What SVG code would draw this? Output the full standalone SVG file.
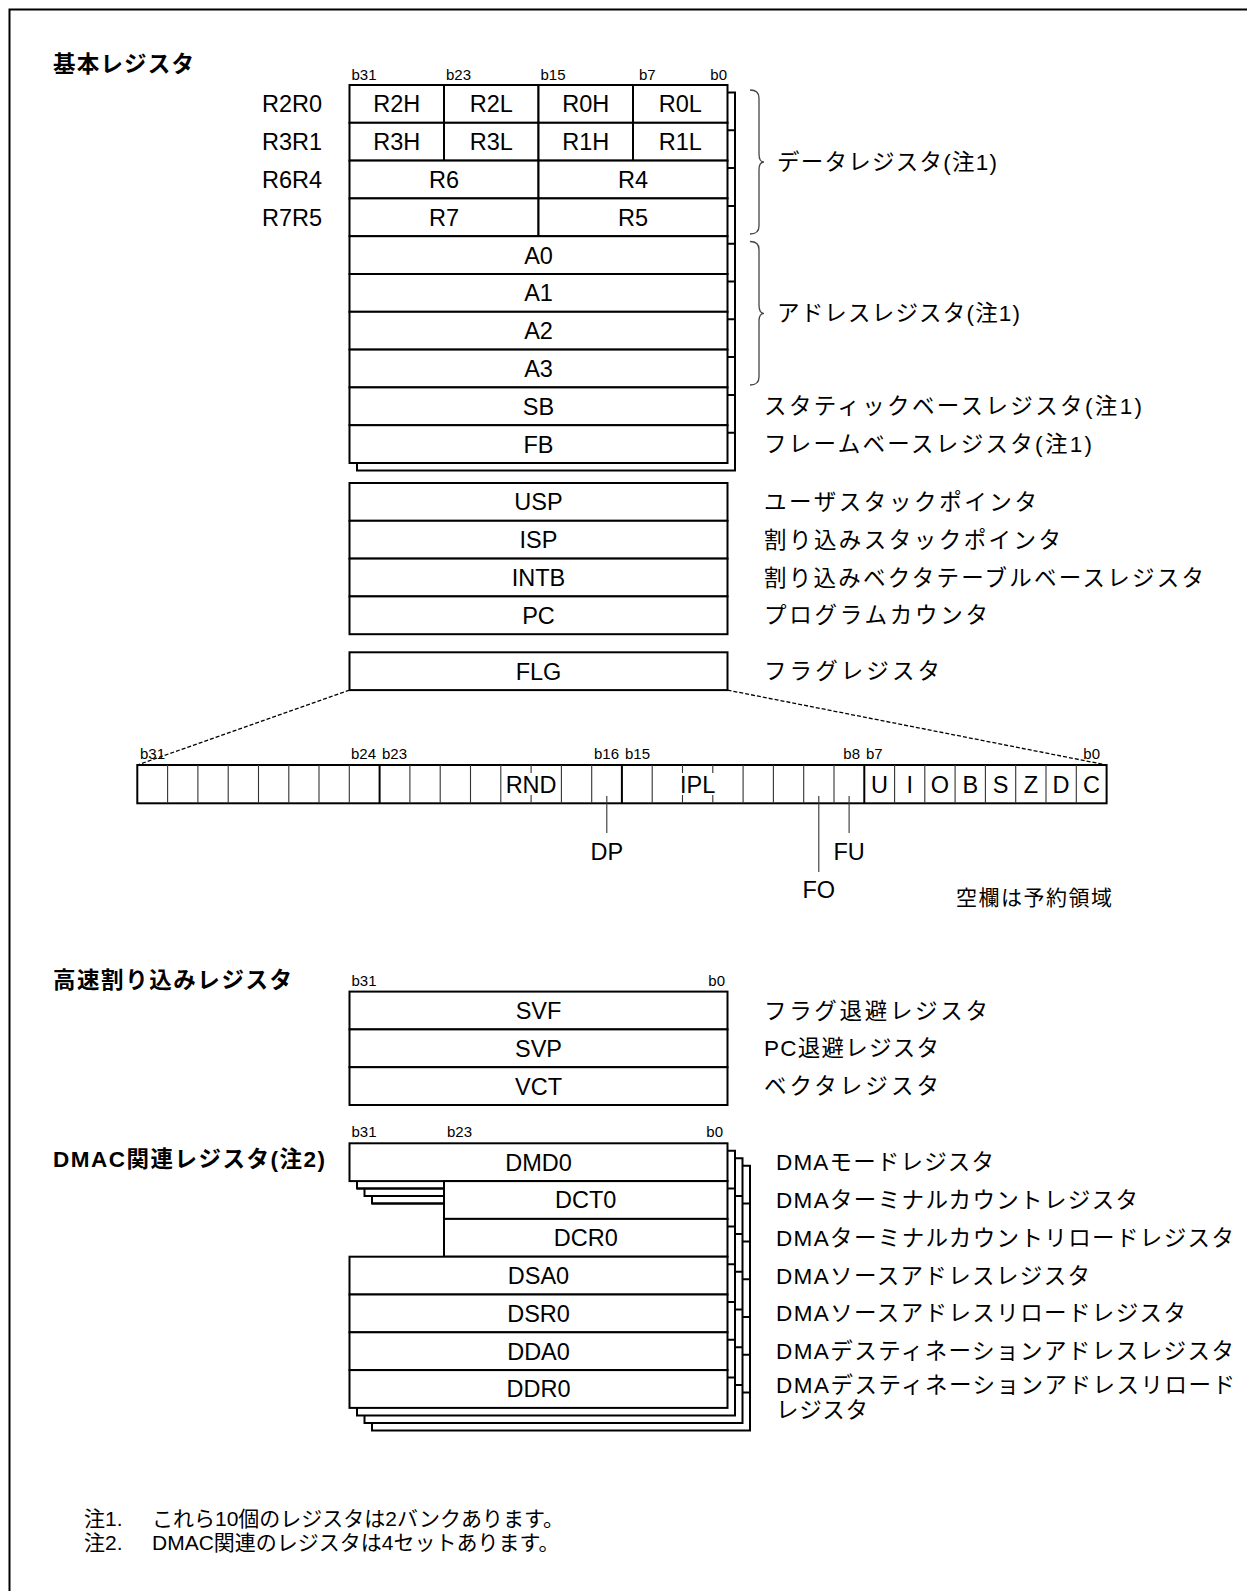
<svg xmlns="http://www.w3.org/2000/svg" width="1247" height="1591" viewBox="0 0 1247 1591">
<style>
.bx{fill:#fff;stroke:#000;stroke-width:2}
.ln{stroke:#000;stroke-width:2;fill:none}
.th{stroke:#333;stroke-width:1.1;fill:none}
.dash{stroke:#000;stroke-width:1.3;stroke-dasharray:4 2;fill:none}
.brace{stroke:#444;stroke-width:1.3;fill:none}
.t{font-family:"Liberation Sans",Arial,sans-serif;font-size:23.5px;text-anchor:middle;fill:#000}
.tl{font-family:"Liberation Sans",Arial,sans-serif;font-size:23.5px;fill:#000}
.b{font-family:"Liberation Sans",Arial,sans-serif;font-size:15px;fill:#000}
.be{font-family:"Liberation Sans",Arial,sans-serif;font-size:15px;fill:#000;text-anchor:end}
.jp{font-family:"Liberation Sans","Noto Sans CJK JP",sans-serif;font-size:22.5px;fill:#000}
.nt{font-family:"Liberation Sans","Noto Sans CJK JP",sans-serif;font-size:21px;fill:#000}
.jpb{font-family:"Liberation Sans","Noto Sans CJK JP",sans-serif;font-size:22.5px;font-weight:bold;fill:#000}
</style>
<defs>
<g id="dmaShape">
<path class="bx" d="M349.5 1143.3H727.5V1407.9H349.5V1256.7H444V1181.1H349.5Z"/>
<path class="ln" d="M349.5 1181.1H727.5M444 1218.9H727.5M349.5 1256.7H727.5M349.5 1294.5H727.5M349.5 1332.3H727.5M349.5 1370.1H727.5"/>
</g>
</defs>
<rect width="1247" height="1591" fill="#fff"/>
<path d="M9.5 1600V9.5H1260" fill="none" stroke="#000" stroke-width="2"/>

<text class="jpb" x="53" y="72" textLength="141" lengthAdjust="spacing">基本レジスタ</text>

<g id="bits-basic">
<text class="b" x="351.5" y="79.5">b31</text>
<text class="b" x="446" y="79.5">b23</text>
<text class="b" x="540.5" y="79.5">b15</text>
<text class="b" x="639" y="79.5">b7</text>
<text class="be" x="727" y="79.5">b0</text>
</g>

<g id="basic-shadow">
<rect class="bx" x="357" y="92.5" width="378" height="378"/>
<path class="ln" d="M357 130.3H735M357 168.1H735M357 205.9H735M357 243.7H735M357 281.5H735M357 319.3H735M357 357.1H735M357 394.9H735M357 432.7H735"/>
</g>

<g id="R2R0">
<text class="tl" x="262" y="112.3">R2R0</text>
<rect class="bx" x="349.5" y="85" width="94.5" height="37.8"/>
<rect class="bx" x="444" y="85" width="94.5" height="37.8"/>
<rect class="bx" x="538.5" y="85" width="94.5" height="37.8"/>
<rect class="bx" x="633" y="85" width="94.5" height="37.8"/>
<text class="t" x="396.75" y="112.3">R2H</text>
<text class="t" x="491.25" y="112.3">R2L</text>
<text class="t" x="585.75" y="112.3">R0H</text>
<text class="t" x="680.25" y="112.3">R0L</text>
</g>
<g id="R3R1">
<text class="tl" x="262" y="150.1">R3R1</text>
<rect class="bx" x="349.5" y="122.8" width="94.5" height="37.8"/>
<rect class="bx" x="444" y="122.8" width="94.5" height="37.8"/>
<rect class="bx" x="538.5" y="122.8" width="94.5" height="37.8"/>
<rect class="bx" x="633" y="122.8" width="94.5" height="37.8"/>
<text class="t" x="396.75" y="150.1">R3H</text>
<text class="t" x="491.25" y="150.1">R3L</text>
<text class="t" x="585.75" y="150.1">R1H</text>
<text class="t" x="680.25" y="150.1">R1L</text>
</g>
<g id="R6R4">
<text class="tl" x="262" y="187.9">R6R4</text>
<rect class="bx" x="349.5" y="160.6" width="189" height="37.8"/>
<rect class="bx" x="538.5" y="160.6" width="189" height="37.8"/>
<text class="t" x="444" y="187.9">R6</text>
<text class="t" x="633" y="187.9">R4</text>
</g>
<g id="R7R5">
<text class="tl" x="262" y="225.7">R7R5</text>
<rect class="bx" x="349.5" y="198.4" width="189" height="37.8"/>
<rect class="bx" x="538.5" y="198.4" width="189" height="37.8"/>
<text class="t" x="444" y="225.7">R7</text>
<text class="t" x="633" y="225.7">R5</text>
</g>
<g id="A0"><rect class="bx" x="349.5" y="236.2" width="378" height="37.8"/><text class="t" x="538.5" y="263.5">A0</text></g>
<g id="A1"><rect class="bx" x="349.5" y="274" width="378" height="37.8"/><text class="t" x="538.5" y="301.3">A1</text></g>
<g id="A2"><rect class="bx" x="349.5" y="311.8" width="378" height="37.8"/><text class="t" x="538.5" y="339.1">A2</text></g>
<g id="A3"><rect class="bx" x="349.5" y="349.6" width="378" height="37.8"/><text class="t" x="538.5" y="376.9">A3</text></g>
<g id="SB"><rect class="bx" x="349.5" y="387.4" width="378" height="37.8"/><text class="t" x="538.5" y="414.7">SB</text></g>
<g id="FB"><rect class="bx" x="349.5" y="425.2" width="378" height="37.8"/><text class="t" x="538.5" y="452.5">FB</text></g>

<g id="USP"><rect class="bx" x="349.5" y="483" width="378" height="37.8"/><text class="t" x="538.5" y="510.3">USP</text></g>
<g id="ISP"><rect class="bx" x="349.5" y="520.8" width="378" height="37.8"/><text class="t" x="538.5" y="548.1">ISP</text></g>
<g id="INTB"><rect class="bx" x="349.5" y="558.6" width="378" height="37.8"/><text class="t" x="538.5" y="585.9">INTB</text></g>
<g id="PC"><rect class="bx" x="349.5" y="596.4" width="378" height="37.8"/><text class="t" x="538.5" y="623.7">PC</text></g>
<g id="FLG"><rect class="bx" x="349.5" y="652.3" width="378" height="37.8"/><text class="t" x="538.5" y="679.6">FLG</text></g>

<g id="labels-basic">
<text class="jp" x="777" y="170" textLength="220" lengthAdjust="spacing">データレジスタ(注1)</text>
<text class="jp" x="777" y="321" textLength="243" lengthAdjust="spacing">アドレスレジスタ(注1)</text>
<text class="jp" x="764" y="414.3" textLength="378" lengthAdjust="spacing">スタティックベースレジスタ(注1)</text>
<text class="jp" x="764" y="452.1" textLength="328" lengthAdjust="spacing">フレームベースレジスタ(注1)</text>
<text class="jp" x="764" y="509.9" textLength="273" lengthAdjust="spacing">ユーザスタックポインタ</text>
<text class="jp" x="764" y="547.7" textLength="297" lengthAdjust="spacing">割り込みスタックポインタ</text>
<text class="jp" x="764" y="585.5" textLength="440" lengthAdjust="spacing">割り込みベクタテーブルベースレジスタ</text>
<text class="jp" x="764" y="623.3" textLength="224" lengthAdjust="spacing">プログラムカウンタ</text>
<text class="jp" x="764" y="679.2" textLength="176" lengthAdjust="spacing">フラグレジスタ</text>
</g>

<g id="flg-bits">
<text class="b" x="140" y="759">b31</text>
<text class="be" x="376" y="759">b24</text>
<text class="b" x="382" y="759">b23</text>
<text class="be" x="619" y="759">b16</text>
<text class="b" x="625" y="759">b15</text>
<text class="be" x="860" y="759">b8</text>
<text class="b" x="866" y="759">b7</text>
<text class="be" x="1100" y="759">b0</text>
<rect class="bx" x="137.3" y="765" width="969.3" height="38.3"/>
<path class="th" d="M167.6 765V803.3M197.9 765V803.3M228.2 765V803.3M258.5 765V803.3M288.8 765V803.3M319 765V803.3M349.3 765V803.3M409.9 765V803.3M440.2 765V803.3M470.5 765V803.3M500.8 765V803.3M561.4 765V803.3M591.7 765V803.3M652.2 765V803.3M743.1 765V803.3M773.4 765V803.3M803.7 765V803.3M834 765V803.3M894.6 765V803.3M924.8 765V803.3M955.1 765V803.3M985.4 765V803.3M1015.7 765V803.3M1046 765V803.3M1076.3 765V803.3"/>
<path class="th" d="M531.1 765V773M531.1 795V803.3M682.5 765V773M682.5 795V803.3M712.8 765V773M712.8 795V803.3"/>
<path class="ln" d="M379.6 765V803.3M621.9 765V803.3M864.3 765V803.3"/>
<text class="t" x="531.1" y="793">RND</text>
<text class="t" x="697.7" y="793">IPL</text>
<text class="t" x="879.4" y="793">U</text>
<text class="t" x="909.7" y="793">I</text>
<text class="t" x="940" y="793">O</text>
<text class="t" x="970.3" y="793">B</text>
<text class="t" x="1000.6" y="793">S</text>
<text class="t" x="1030.9" y="793">Z</text>
<text class="t" x="1061.1" y="793">D</text>
<text class="t" x="1091.4" y="793">C</text>
<text class="t" x="606.8" y="860">DP</text>
<text class="t" x="849.1" y="860">FU</text>
<text class="t" x="818.8" y="898">FO</text>
<text class="nt" x="956" y="905" textLength="156" lengthAdjust="spacing">空欄は予約領域</text>
</g>

<text class="jpb" x="53" y="988" textLength="239" lengthAdjust="spacing">高速割り込みレジスタ</text>
<g id="bits-fast">
<text class="b" x="351.5" y="985.5">b31</text>
<text class="be" x="725" y="985.5">b0</text>
</g>
<g id="SVF"><rect class="bx" x="349.5" y="991.6" width="378" height="37.8"/><text class="t" x="538.5" y="1018.9">SVF</text></g>
<g id="SVP"><rect class="bx" x="349.5" y="1029.4" width="378" height="37.8"/><text class="t" x="538.5" y="1056.7">SVP</text></g>
<g id="VCT"><rect class="bx" x="349.5" y="1067.2" width="378" height="37.8"/><text class="t" x="538.5" y="1094.5">VCT</text></g>
<g id="labels-fast">
<text class="jp" x="764" y="1018.5" textLength="224" lengthAdjust="spacing">フラグ退避レジスタ</text>
<text class="jp" x="764" y="1056.3" textLength="175" lengthAdjust="spacing">PC退避レジスタ</text>
<text class="jp" x="764" y="1094.1" textLength="175" lengthAdjust="spacing">ベクタレジスタ</text>
</g>

<text class="jpb" x="53" y="1167" textLength="272" lengthAdjust="spacing">DMAC関連レジスタ(注2)</text>
<g id="bits-dma">
<text class="b" x="351.5" y="1136.7">b31</text>
<text class="b" x="447" y="1136.7">b23</text>
<text class="be" x="723" y="1136.7">b0</text>
</g>
<g id="dma-shadows">
<use href="#dmaShape" transform="translate(22.5,22.5)"/>
<use href="#dmaShape" transform="translate(15,15)"/>
<use href="#dmaShape" transform="translate(7.5,7.5)"/>
</g>
<g id="DMD0"><rect class="bx" x="349.5" y="1143.3" width="378" height="37.8"/><text class="t" x="538.5" y="1170.6">DMD0</text></g>
<g id="DCT0"><rect class="bx" x="444" y="1181.1" width="283.5" height="37.8"/><text class="t" x="585.75" y="1208.4">DCT0</text></g>
<g id="DCR0"><rect class="bx" x="444" y="1218.9" width="283.5" height="37.8"/><text class="t" x="585.75" y="1246.2">DCR0</text></g>
<g id="DSA0"><rect class="bx" x="349.5" y="1256.7" width="378" height="37.8"/><text class="t" x="538.5" y="1284">DSA0</text></g>
<g id="DSR0"><rect class="bx" x="349.5" y="1294.5" width="378" height="37.8"/><text class="t" x="538.5" y="1321.8">DSR0</text></g>
<g id="DDA0"><rect class="bx" x="349.5" y="1332.3" width="378" height="37.8"/><text class="t" x="538.5" y="1359.6">DDA0</text></g>
<g id="DDR0"><rect class="bx" x="349.5" y="1370.1" width="378" height="37.8"/><text class="t" x="538.5" y="1397.4">DDR0</text></g>
<g id="labels-dma">
<text class="jp" x="776" y="1170.2" textLength="218" lengthAdjust="spacing">DMAモードレジスタ</text>
<text class="jp" x="776" y="1208" textLength="362" lengthAdjust="spacing">DMAターミナルカウントレジスタ</text>
<text class="jp" x="776" y="1245.8" textLength="458" lengthAdjust="spacing">DMAターミナルカウントリロードレジスタ</text>
<text class="jp" x="776" y="1283.6" textLength="314" lengthAdjust="spacing">DMAソースアドレスレジスタ</text>
<text class="jp" x="776" y="1321.4" textLength="410" lengthAdjust="spacing">DMAソースアドレスリロードレジスタ</text>
<text class="jp" x="776" y="1359.2" textLength="458" lengthAdjust="spacing">DMAデスティネーションアドレスレジスタ</text>
<text class="jp" x="776" y="1393" textLength="459" lengthAdjust="spacing">DMAデスティネーションアドレスリロード</text>
<text class="jp" x="776" y="1418" textLength="92" lengthAdjust="spacing">レジスタ</text>
</g>

<g id="notes">
<text class="nt" x="84" y="1526">注1.</text>
<text class="nt" x="152" y="1526">これら10個のレジスタは2バンクあります。</text>
<text class="nt" x="84" y="1550">注2.</text>
<text class="nt" x="152" y="1550">DMAC関連のレジスタは4セットあります。</text>
</g>

<g id="connectors">
<path class="dash" d="M349.5 690.1L137.3 765M727.5 690.1L1106.6 765"/>
<path class="th" d="M606.8 796V833M818.8 796V872M849.1 796V833"/>
<path class="brace" d="M750 90Q759 90 759 98V154Q759 162 764 162Q759 162 759 170V226Q759 234 750 234"/>
<path class="brace" d="M750 241.5Q759 241.5 759 249.5V305.3Q759 313.3 764 313.3Q759 313.3 759 321.3V377Q759 385 750 385"/>
</g>
</svg>
